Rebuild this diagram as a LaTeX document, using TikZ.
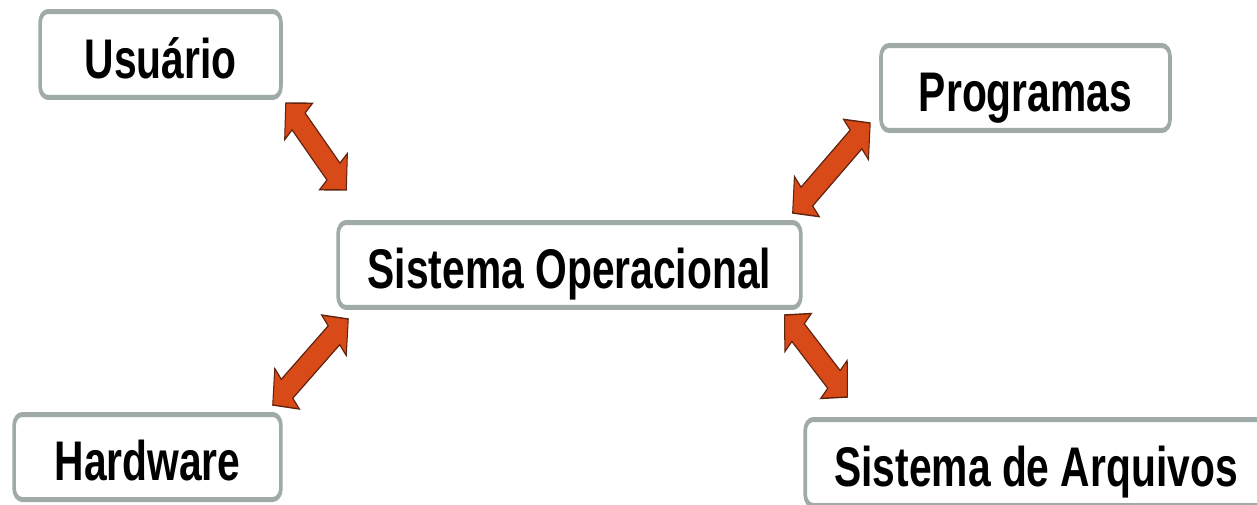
\documentclass[tikz,border=0pt]{standalone}
\usepackage{fontspec}
\setmainfont{Liberation Sans}
\usetikzlibrary{calc}
\definecolor{boxgray}{RGB}{160,170,168}
\definecolor{arrfill}{RGB}{216,74,24}
\definecolor{arrline}{RGB}{95,35,15}
\tikzset{
  box/.style={draw=boxgray, line width=0.1cm, rounded corners=0.22cm, fill=white,
    inner sep=0pt, text height=27pt, text depth=0pt,
    font=\bfseries\fontsize{31.8}{36}\selectfont, text=black, minimum height=1.7cm},
  bigarrow/.style={fill=arrfill, draw=arrline, line width=0.8pt, line join=miter}
}
\def\ah{14.5pt}
\def\aw{15pt}
\def\as{7pt}
\newcommand\twoarrow[2]{%
  \draw[bigarrow] (#1)
    -- ($(#1)!\ah!(#2)!\aw!90:(#2)$)
    -- ($(#1)!\ah!(#2)!\as!90:(#2)$)
    -- ($(#2)!\ah!(#1)!\as!-90:(#1)$)
    -- ($(#2)!\ah!(#1)!\aw!-90:(#1)$)
    -- (#2)
    -- ($(#2)!\ah!(#1)!\aw!90:(#1)$)
    -- ($(#2)!\ah!(#1)!\as!90:(#1)$)
    -- ($(#1)!\ah!(#2)!\as!-90:(#2)$)
    -- ($(#1)!\ah!(#2)!\aw!-90:(#2)$)
    -- cycle;}
\begin{document}
\begin{tikzpicture}[x=0.02cm, y=-0.02cm]
  \fill[white, use as bounding box] (0,0) rectangle (1257,504);
  \begin{scope}[transform canvas={xscale=0.73}]
    \node[box, minimum width=6.6cm, minimum height=1.72cm] (usr) at (219.9,54.5) {Usuário};
    \node[box, minimum width=7.92cm] (prog) at (1404.8,88) {Programas};
    \node[box, minimum width=12.68cm] (so) at (780.1,265) {Sistema Operacional};
    \node[box, minimum width=7.31cm] (hw) at (202.1,457) {Hardware};
    \node[box, minimum width=12.65cm, minimum height=1.72cm] (arq) at (1419.2,462.5) {Sistema de Arquivos};
    \coordinate (a1s) at ($(usr.south east)+(4.1,3)$);
    \coordinate (a1e) at ($(so.north west)+(13.7,-30)$);
    \coordinate (a2s) at ($(so.north east)+(-13.7,-7)$);
    \coordinate (a2e) at ($(prog.south west)+(-12.3,-10)$);
    \coordinate (a3s) at ($(hw.north east)+(-13.7,-7)$);
    \coordinate (a3e) at ($(so.south west)+(16.4,9)$);
    \coordinate (a4s) at ($(so.south east)+(-24.7,5)$);
    \coordinate (a4e) at ($(arq.north west)+(60.3,-20)$);
    \twoarrow{a1s}{a1e}
    \twoarrow{a2s}{a2e}
    \twoarrow{a3s}{a3e}
    \twoarrow{a4s}{a4e}
  \end{scope}
\end{tikzpicture}
\end{document}
